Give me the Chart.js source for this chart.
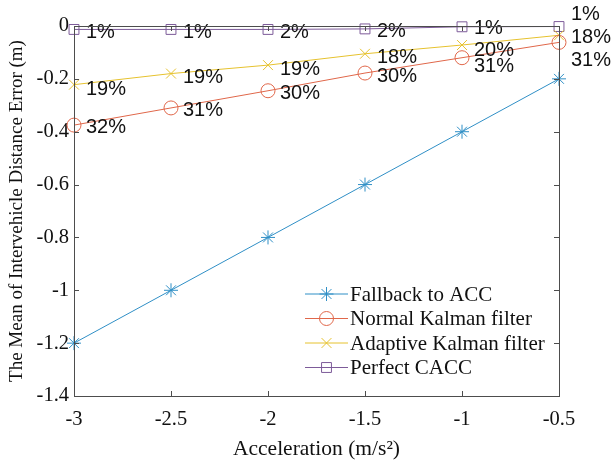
<!DOCTYPE html>
<html>
<head>
<meta charset="utf-8">
<script src="https://cdn.jsdelivr.net/npm/chart.js@4.4.0/dist/chart.umd.min.js"></script>
<style>
  html, body { margin: 0; background: #fff; }
  #wrap { width: 613px; height: 466px; }
</style>
</head>
<body>
<div id="wrap"><canvas id="chart"></canvas></div>
<script>
const accel = [-3, -2.5, -2, -1.5, -1, -0.5];
const fallbackAcc = [-1.2, -1.0, -0.8, -0.6, -0.4, -0.2];
const normalKalman = [-0.375, -0.31, -0.245, -0.178, -0.12, -0.062];
const adaptiveKalman = [-0.222, -0.18, -0.148, -0.105, -0.072, -0.035];
const perfectCacc = [-0.013, -0.013, -0.013, -0.011, -0.003, -0.002];
const normalPct = ["32%", "31%", "30%", "30%", "31%", "31%"];
const adaptivePct = ["19%", "19%", "19%", "18%", "20%", "18%"];
const perfectPct = ["1%", "1%", "2%", "2%", "1%", "1%"];
const yTicks = [-1.4, -1.2, -1, -0.8, -0.6, -0.4, -0.2, 0];

const SERIF = "'Liberation Serif', 'Times New Roman', serif";
const SANS = "'Liberation Sans', Arial, sans-serif";

function pts(ys) {
  return accel.map((x, i) => ({ x: x, y: ys[i] }));
}

function series(label, ys, color, style) {
  return {
    label: label,
    data: pts(ys),
    borderColor: color,
    backgroundColor: "rgba(0,0,0,0)",
    borderWidth: 1,
    pointStyle: style,
    pointRadius: 7,
    pointBorderWidth: 1,
    pointBorderColor: color,
    pointBackgroundColor: "rgba(0,0,0,0)",
    clip: false,
  };
}

// axes box with inward ticks on all four sides
const framePlugin = {
  id: "frame",
  afterDraw(chart) {
    const { ctx, chartArea: a, scales } = chart;
    ctx.save();
    ctx.strokeStyle = "#4d4d4d";
    ctx.lineWidth = 1;
    ctx.strokeRect(Math.round(a.left) + 0.5, Math.round(a.top) + 0.5,
      Math.round(a.right - a.left), Math.round(a.bottom - a.top));
    ctx.beginPath();
    accel.forEach((v) => {
      const x = Math.round(scales.x.getPixelForValue(v)) + 0.5;
      ctx.moveTo(x, a.bottom); ctx.lineTo(x, a.bottom - 5);
      ctx.moveTo(x, a.top); ctx.lineTo(x, a.top + 5);
    });
    yTicks.forEach((v) => {
      const y = Math.round(scales.y.getPixelForValue(v)) + 0.5;
      ctx.moveTo(a.left, y); ctx.lineTo(a.left + 5, y);
      ctx.moveTo(a.right, y); ctx.lineTo(a.right - 5, y);
    });
    ctx.stroke();
    ctx.restore();
  },
};

// percentage annotations next to the markers
const pctPlugin = {
  id: "pct",
  afterDatasetsDraw(chart) {
    const { ctx } = chart;
    const groups = [
      { ds: 1, text: normalPct, dy: [2, 3, 3, 3, 9, 18] },
      { ds: 2, text: adaptivePct, dy: [5, 4, 4, 4, 5, 2] },
      { ds: 3, text: perfectPct, dy: [3, 3, 3, 3, 2, -12] },
    ];
    ctx.save();
    ctx.font = "20px " + SANS;
    ctx.fillStyle = "#111";
    ctx.textAlign = "left";
    ctx.textBaseline = "middle";
    groups.forEach((g) => {
      const meta = chart.getDatasetMeta(g.ds);
      meta.data.forEach((p, i) => {
        ctx.fillText(g.text[i], p.x + 12, p.y + g.dy[i]);
      });
    });
    ctx.restore();
  },
};

// legend drawn inside the lower right of the plot
const legendPlugin = {
  id: "insideLegend",
  afterDraw(chart) {
    const { ctx, chartArea: a } = chart;
    const x0 = a.right - 254;
    const y0 = a.bottom - 102;
    const rowH = 24.5;
    ctx.save();
    chart.data.datasets.forEach((ds, i) => {
      const y = y0 + i * rowH;
      ctx.strokeStyle = ds.borderColor;
      ctx.lineWidth = 1;
      ctx.beginPath();
      ctx.moveTo(x0, y);
      ctx.lineTo(x0 + 43, y);
      ctx.stroke();
      ctx.fillStyle = "rgba(0,0,0,0)";
      Chart.helpers.drawPoint(ctx, {
        pointStyle: ds.pointStyle,
        radius: 7,
        borderWidth: 1,
        rotation: 0,
      }, x0 + 21.5, y);
      ctx.fillStyle = "#111";
      ctx.font = "21px " + SERIF;
      ctx.textAlign = "left";
      ctx.textBaseline = "middle";
      ctx.fillText(ds.label, x0 + 45, y + 1);
    });
    ctx.restore();
  },
};

new Chart(document.getElementById("chart"), {
  type: "line",
  data: {
    datasets: [
      series("Fallback to ACC", fallbackAcc, "#2f8fc6", "star"),
      series("Normal Kalman filter", normalKalman, "#e0674a", "circle"),
      series("Adaptive Kalman filter", adaptiveKalman, "#e6c22e", "crossRot"),
      series("Perfect CACC", perfectCacc, "#7d5b99", "rect"),
    ],
  },
  options: {
    responsive: true,
    maintainAspectRatio: false,
    animation: false,
    layout: { padding: { top: 26, right: 54, left: 0, bottom: 0 } },
    plugins: { legend: { display: false }, tooltip: { enabled: false } },
    scales: {
      x: {
        type: "linear",
        min: -3,
        max: -0.5,
        afterFit(scale) { scale.height = 70; },
        afterBuildTicks(scale) { scale.ticks = accel.map((v) => ({ value: v })); },
        grid: { display: false, drawTicks: false },
        border: { display: false },
        ticks: {
          padding: 11,
          color: "#111",
          font: { family: SERIF, size: 20.5 },
          callback: (v) => String(+v.toFixed(2)),
        },
        title: {
          display: true,
          text: "Acceleration (m/s²)",
          color: "#111",
          font: { family: SERIF, size: 21.5 },
          padding: { top: 0, bottom: 4 },
        },
      },
      y: {
        type: "linear",
        min: -1.4,
        max: 0,
        afterFit(scale) { scale.width = 74; },
        afterBuildTicks(scale) { scale.ticks = yTicks.map((v) => ({ value: v })); },
        grid: { display: false, drawTicks: false },
        border: { display: false },
        ticks: {
          padding: 5,
          color: "#111",
          font: { family: SERIF, size: 20.5 },
          callback: (v) => String(+v.toFixed(2)),
        },
        title: {
          display: true,
          text: "The Mean of Intervehicle Distance Error (m)",
          color: "#111",
          font: { family: SERIF, size: 19 },
          padding: { top: 6, bottom: 0 },
        },
      },
    },
  },
  plugins: [framePlugin, pctPlugin, legendPlugin],
});
</script>
</body>
</html>
